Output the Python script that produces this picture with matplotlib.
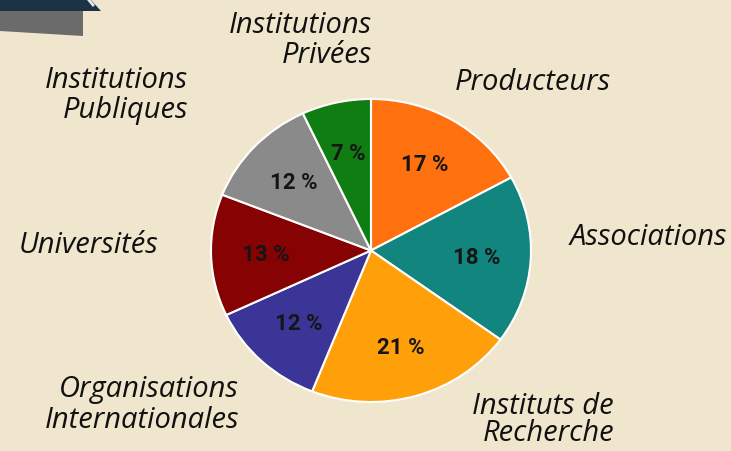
import numpy as np
import matplotlib
matplotlib.use('Agg')
import matplotlib.pyplot as plt
from matplotlib.patches import Polygon

# données du camembert (ordre horaire depuis le haut)
categories = ['Producteurs', 'Associations', 'Instituts de\nRecherche',
              'Organisations\nInternationales', 'Universités',
              'Institutions\nPubliques', 'Institutions\nPrivées']
parts = [17, 18, 21, 12, 13, 12, 7]
couleurs = ['#ff700f', '#13857f', '#ffa00a', '#3a3597', '#870303', '#8a8a8a', '#0f7d12']

# position des étiquettes (bord droit, lignes de base) en pixels
label_x = [611, 727, 614, 239, 158, 188, 372]
label_y = [[90], [245], [414, 441], [397, 428], [253], [88, 118], [33, 63]]

W, H = 731, 452
fond = '#efe6cd'

fig = plt.figure(figsize=(W / 100, H / 100), dpi=100)
fig.patch.set_facecolor(fond)

# bandeau décoratif en haut à gauche
fig.patches.append(Polygon([(0, 1), (90 / W, 1), (101 / W, 1 - 12 / H), (0, 1 - 12 / H)],
                           closed=True, transform=fig.transFigure, facecolor='#1c3344',
                           edgecolor='none', zorder=1))
fig.patches.append(Polygon([(0, 1 - 12 / H), (83 / W, 1 - 12 / H), (83 / W, 1 - 37 / H), (0, 1 - 32 / H)],
                           closed=True, transform=fig.transFigure, facecolor='#6b6b6b',
                           edgecolor='none', zorder=1))
fig.lines.append(plt.Line2D([88 / W, 93 / W], [1, 1 - 6 / H], transform=fig.transFigure,
                            color='#e8e8e8', linewidth=2))

# le camembert est un peu étiré horizontalement
ax = fig.add_axes([211 / W, 49 / H, 320 / W, 303 / H])
ax.set_facecolor('none')
wedges, texts, autotexts = ax.pie(parts, colors=couleurs, startangle=90, counterclock=False,
                                  autopct=lambda p: '%d %%' % round(p), pctdistance=0.66,
                                  wedgeprops=dict(edgecolor='white', linewidth=1.5),
                                  textprops=dict(fontfamily='Roboto', fontweight='bold',
                                                 fontsize=16, color='#151515'))
ax.set_aspect('auto')
ax.set_xlim(-1, 1)
ax.set_ylim(-1, 1)
ax.axis('off')

# étiquettes des catégories, en italique
for cat, x, ys in zip(categories, label_x, label_y):
    for ligne, y in zip(cat.split('\n'), ys):
        fig.text(x / W, 1 - y / H, ligne, ha='right', va='baseline',
                 fontfamily='Open Sans', fontstyle='italic', fontsize=21, color='#111111')

fig.savefig('out.png', dpi=100, facecolor=fond)
